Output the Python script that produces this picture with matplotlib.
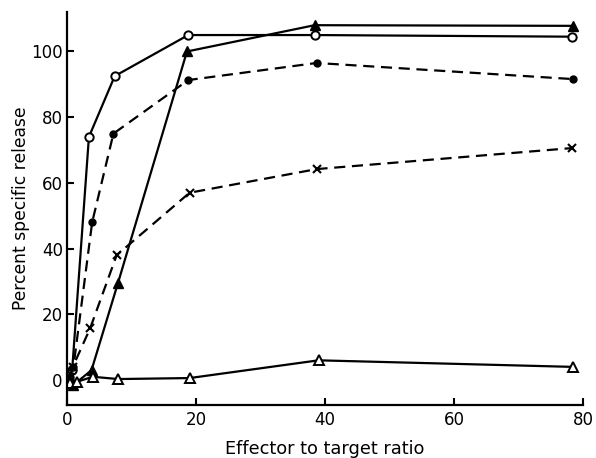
import matplotlib
matplotlib.use("Agg")
import matplotlib.pyplot as plt

# effector : target ratios and percent specific release
x_open_circle = [0.3, 0.8, 3.4, 7.4, 18.8, 38.4, 78.3]
y_open_circle = [0, 3, 74, 92.5, 105, 105, 104.5]

x_filled_circle = [0.5, 1.0, 3.9, 7.2, 18.8, 38.7, 78.4]
y_filled_circle = [1, 4, 48, 75, 91.3, 96.5, 91.6]

x_filled_tri = [0.5, 1.0, 3.8, 7.9, 18.6, 38.4, 78.4]
y_filled_tri = [-1, -1.5, 3, 29.5, 100, 108, 107.8]

x_cross = [0.4, 0.9, 3.6, 7.7, 19.0, 38.7, 78.3]
y_cross = [1, 4, 15.8, 38, 57, 64.2, 70.6]

x_open_tri = [0.5, 1.6, 4.0, 7.9, 19.0, 39.0, 78.5]
y_open_tri = [-1, -0.5, 1, 0.3, 0.6, 6, 4]

xticks = [0, 20, 40, 60, 80]
yticks = [0, 20, 40, 60, 80, 100]

fig = plt.figure(figsize=(5.96, 4.58), dpi=100)
ax = fig.add_axes([0.1124, 0.1157, 0.8658, 0.8580])

lw = 1.6
ax.plot(x_open_circle, y_open_circle, '-', color='black', lw=lw,
        marker='o', ms=6, mfc='white', mec='black', mew=1.4)
ax.plot(x_filled_circle, y_filled_circle, '--', color='black', lw=lw,
        dashes=(5, 3), marker='o', ms=5, mfc='black', mec='black')
ax.plot(x_filled_tri, y_filled_tri, '-', color='black', lw=lw,
        marker='^', ms=6.5, mfc='black', mec='black')
ax.plot(x_cross, y_cross, '--', color='black', lw=lw,
        dashes=(5, 3), marker='x', ms=6, mec='black', mew=1.5)
ax.plot(x_open_tri, y_open_tri, '-', color='black', lw=lw,
        marker='^', ms=7, mfc='white', mec='black', mew=1.4)

ax.set_xlim(0, 80)
ax.set_ylim(-7.6, 112)
ax.set_xticks(xticks)
ax.set_yticks(yticks)

ax.spines['top'].set_visible(False)
ax.spines['right'].set_visible(False)
ax.spines['left'].set_linewidth(1.6)
ax.spines['bottom'].set_linewidth(1.6)
ax.tick_params(direction='in', length=5, width=1.5, labelsize=12, pad=4)
ax.tick_params(axis='y', pad=3)

ax.set_xlabel('Effector to target ratio', fontsize=12.8, labelpad=8)
ax.set_ylabel('Percent specific release', fontsize=12.3, labelpad=1)

fig.savefig('out.png', dpi=100)
